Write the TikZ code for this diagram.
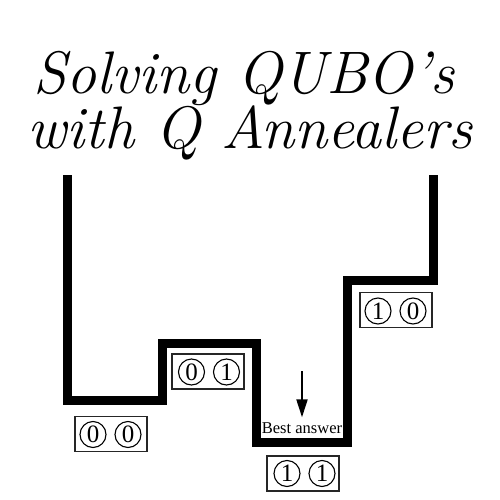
\documentclass[tikz,border=0pt]{standalone}
\usepackage{fontspec}
\newfontfamily\timesfont{Liberation Serif}
\usetikzlibrary{arrows.meta}
\tikzset{
  wall/.style={line width=9pt, line join=miter, line cap=butt},
  statebox/.style={draw=black!85, line width=1.2pt, minimum width=72pt, minimum height=35pt, inner sep=0pt},
  bit/.style={draw=black, line width=1.1pt, circle, minimum size=26pt, inner sep=0pt, font=\timesfont\fontsize{25}{25}\selectfont},
  titletext/.style={font=\itshape\fontsize{60}{66}\selectfont, anchor=base},
}
\begin{document}
\begin{tikzpicture}[x=1pt,y=-1pt]
\useasboundingbox (0,0) rectangle (500,500);
% title
\node[titletext] (t1) at (244,94) {Solving QUBO's};
\node[titletext] (t2) at (250,148) {with Q Annealers};
% energy landscape wall
\coordinate (w0) at (67,175);
\coordinate (w1) at (67,400);
\coordinate (w2) at (162,400);
\coordinate (w3) at (162,343);
\coordinate (w4) at (256,343);
\coordinate (w5) at (256,442);
\coordinate (w6) at (347,442);
\coordinate (w7) at (347,280);
\coordinate (w8) at (433,280);
\coordinate (w9) at (433,175);
\draw[wall] (w0) -- (w1) -- (w2) -- (w3) -- (w4) -- (w5) -- (w6) -- (w7) -- (w8) -- (w9);
% state boxes
\node[statebox] (b00) at (111,434) {};
\node[bit] (b00a) at (93,434.5) {0};
\node[bit] (b00b) at (128,434.5) {0};
\node[statebox] (b01) at (208,371.5) {};
\node[bit] (b01a) at (191.5,372) {0};
\node[bit] (b01b) at (226.5,372) {1};
\node[statebox] (b11) at (303,473.5) {};
\node[bit] (b11a) at (287,473.5) {1};
\node[bit] (b11b) at (322,473.5) {1};
\node[statebox] (b10) at (396,310) {};
\node[bit] (b10a) at (378,311) {1};
\node[bit] (b10b) at (413,311) {0};
% best answer
\node[font=\timesfont\fontsize{16.5}{17}\selectfont, inner sep=0pt] (best) at (302,428) {Best answer};
\coordinate (arrtop) at (302,371);
\draw[line width=2pt, -{Triangle[width=11pt,length=18pt]}] (arrtop) -- ([yshift=5pt]best.north);
\end{tikzpicture}
\end{document}
